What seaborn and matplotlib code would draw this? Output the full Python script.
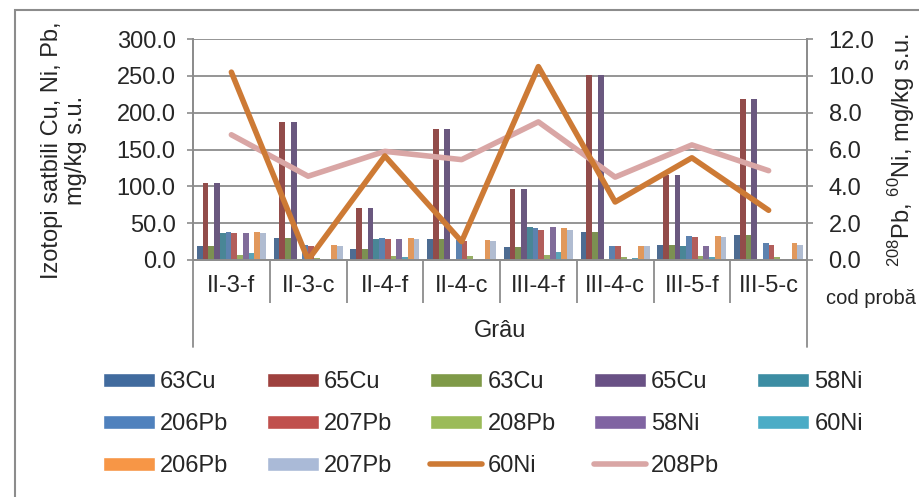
import numpy as np
import pandas as pd
import matplotlib
matplotlib.use("Agg")
import matplotlib.pyplot as plt
from matplotlib.patches import Patch, Rectangle
from matplotlib.lines import Line2D
import seaborn as sns

sns.set_style("white")
plt.rcParams['font.family'] = ['Liberation Sans', 'DejaVu Sans']
plt.rcParams['mathtext.fontset'] = 'custom'
plt.rcParams['mathtext.rm'] = 'Liberation Sans'

# %% data
categories = ['II-3-f', 'II-3-c', 'II-4-f', 'II-4-c', 'III-4-f', 'III-4-c', 'III-5-f', 'III-5-c']

cu63_a = [19, 30, 14.5, 28, 18, 38, 20, 33.5]
cu65_a = [104, 187, 70.5, 178, 97, 251, 116, 218.5]
cu63_b = [19, 30, 14.5, 28, 18, 38, 20, 33.5]
cu65_b = [104, 187, 70.5, 178, 97, 251, 116, 218.5]
ni58_a = [36, 0, 28, 0, 45, 0, 18.5, 0]
pb206_a = [38, 20, 29.5, 26.5, 43, 19.5, 32.5, 23]
pb207_a = [36, 19.5, 28.5, 26, 40.5, 19, 31, 21]
pb208_a = [6.3, 3, 5.4, 5.4, 6.8, 4, 5.4, 4.5]
ni58_b = [36, 0, 28, 1, 45, 0, 18.5, 0]
ni60_b = [10, 0, 4.5, 0, 11, 2.7, 4.5, 1.8]
pb206_b = [38, 20, 29.5, 26.5, 43, 19.5, 32.5, 23]
pb207_b = [36, 19.5, 28.5, 26, 40.5, 19, 31, 21]

# secondary axis lines
ni60_line = [10.2, 0.0, 5.65, 1.0, 10.5, 3.15, 5.55, 2.7]
pb208_line = [6.8, 4.55, 5.9, 5.45, 7.5, 4.5, 6.25, 4.85]

bar_keys = ['63Cu_a', '65Cu_a', '63Cu_b', '65Cu_b', '58Ni_a', '206Pb_a',
            '207Pb_a', '208Pb_a', '58Ni_b', '60Ni_b', '206Pb_b', '207Pb_b']
bar_labels = ['63Cu', '65Cu', '63Cu', '65Cu', '58Ni', '206Pb',
              '207Pb', '208Pb', '58Ni', '60Ni', '206Pb', '207Pb']
bar_values = [cu63_a, cu65_a, cu63_b, cu65_b, ni58_a, pb206_a,
              pb207_a, pb208_a, ni58_b, ni60_b, pb206_b, pb207_b]
bar_colors = ['#416b9e', '#9e413e', '#7f9a48', '#695185', '#3c8da3', '#4f81bd',
              '#c0504d', '#9bbb59', '#8064a2', '#4bacc6', '#f79646', '#aabad7']
line_colors = {'60Ni': '#cd7a35', '208Pb': '#d9a6a5'}

wide = pd.DataFrame(dict(zip(bar_keys, bar_values)))
wide['cod'] = categories
df = wide.melt(id_vars='cod', var_name='serie', value_name='val')

# %% figure
W, H = 920, 497
fig = plt.figure(figsize=(W / 100, H / 100), dpi=100)
ax = fig.add_axes([193 / W, 1 - 260 / H, 614 / W, 221 / H])

grey = '#8c8c8c'
fs = 17

sns.barplot(data=df, x='cod', y='val', hue='serie', order=categories,
            hue_order=bar_keys, palette=dict(zip(bar_keys, bar_colors)),
            width=0.9, linewidth=0, errorbar=None, legend=False, ax=ax)

ax2 = ax.twinx()
x = np.arange(len(categories))
sns.lineplot(x=x, y=pb208_line, ax=ax2, color=line_colors['208Pb'], lw=4,
             solid_capstyle='round', solid_joinstyle='round', sort=False)
sns.lineplot(x=x, y=ni60_line, ax=ax2, color=line_colors['60Ni'], lw=4,
             solid_capstyle='round', solid_joinstyle='round', sort=False)

ax.set_xlim(-0.5, len(categories) - 0.5)
ax.set_ylim(0, 300)
ax.set_yticks(np.arange(0, 301, 50))
ax.set_yticklabels([f'{v:.1f}' for v in np.arange(0, 301, 50)])
ax2.set_ylim(0, 12)
ax2.set_yticks(np.arange(0, 13, 2))
ax2.set_yticklabels([f'{v:.1f}' for v in np.arange(0, 13, 2)])

ax.set_xlabel('')
ax.set_ylabel('')
ax2.set_ylabel('')

ax.yaxis.grid(True, color=grey, lw=1.3)
ax.set_axisbelow(True)
for a in (ax, ax2):
    a.spines['top'].set_visible(False)
    for s in ('left', 'right', 'bottom'):
        a.spines[s].set_color(grey)
        a.spines[s].set_linewidth(1.3)

ax.tick_params(axis='y', direction='out', length=4.5, width=1.2, color=grey,
               pad=8, labelsize=fs, left=True)
ax2.tick_params(axis='y', direction='out', length=4.5, width=1.2, color=grey,
                pad=11, labelsize=fs, right=True)

# category labels and separators
ax.tick_params(axis='x', which='major', length=0, pad=11, labelsize=fs)
ax.set_xticks(np.arange(0.5, len(categories) - 1, 1.0), minor=True)
ax.tick_params(axis='x', which='minor', direction='out', length=31, width=1.3,
               color=grey, bottom=True)
for xb in (-0.5, len(categories) - 0.5):
    ax.plot([xb, xb], [0, -0.394], transform=ax.get_xaxis_transform(),
            clip_on=False, color=grey, lw=1.3)

fig.text(500 / W, 1 - 331 / H, 'Grâu', ha='center', va='center', fontsize=fs)
fig.text(826 / W, 1 - 298 / H, 'cod probă', ha='left', va='center', fontsize=14.5)

fig.text(64 / W, 1 - 150 / H, 'Izotopi satbili Cu, Ni, Pb,\nmg/kg s.u.',
         rotation=90, ha='center', va='center', fontsize=fs, linespacing=1.15,
         multialignment='center')
fig.text(902 / W, 1 - 150 / H, '$^{208}$Pb, $^{60}$Ni, mg/kg s.u.',
         rotation=90, ha='center', va='center', fontsize=fs)

# outer chart border
fig.patches.append(Rectangle((15 / W, -0.1), 1.2, 1 - 10 / H + 0.1,
                             transform=fig.transFigure, fill=False,
                             edgecolor='#8c8c8c', lw=1.5))

# legend (column-major order so rows read like the original)
patches = [Patch(facecolor=c, label=l) for c, l in zip(bar_colors, bar_labels)]
lines = [Line2D([], [], color=line_colors['60Ni'], lw=4, solid_capstyle='round', label='60Ni'),
         Line2D([], [], color=line_colors['208Pb'], lw=4, solid_capstyle='round', label='208Pb')]
rows = [patches[0:5], patches[5:10], patches[10:12] + lines]
handles = []
for col in range(5):
    for row in rows:
        if col < len(row):
            handles.append(row[col])
fig.legend(handles=handles, labels=[h.get_label() for h in handles], ncol=5,
           loc='upper left', bbox_to_anchor=(103 / W, 1 - 371 / H),
           frameon=False, fontsize=fs, handlelength=2.2, handleheight=0.55,
           handletextpad=0.22, columnspacing=1.62, labelspacing=0.85,
           borderpad=0, borderaxespad=0)

fig.savefig('out.png', dpi=100)
